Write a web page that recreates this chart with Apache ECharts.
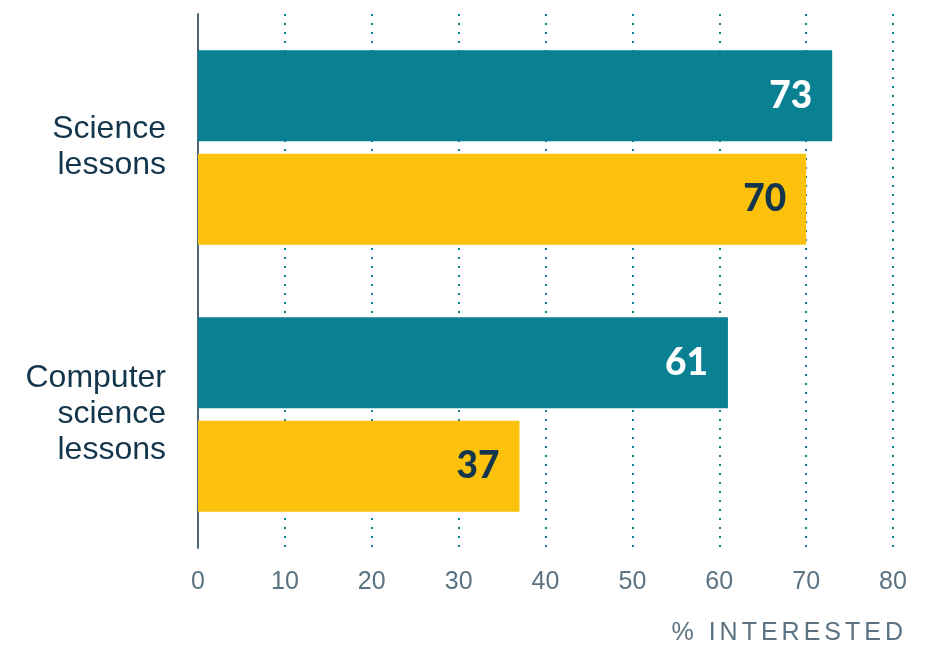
<!DOCTYPE html>
<html>
<head>
<meta charset="utf-8">
<script src="https://cdn.jsdelivr.net/npm/echarts@6/dist/echarts.min.js"></script>
<style>
  html, body { margin: 0; padding: 0; background: #ffffff; }
  #wrap { position: relative; width: 931px; height: 645px; }
  #chart { width: 931px; height: 645px; }
  #xname {
    position: absolute; right: 24px; top: 616px;
    font-family: "Liberation Sans", Arial, sans-serif; font-size: 25px;
    letter-spacing: 4px; color: #5b7282; line-height: 30px; white-space: nowrap;
  }
</style>
</head>
<body>
<div id="wrap">
  <div id="chart"></div>
  <div id="xname">% INTERESTED</div>
</div>
<script>
// Categories (top to bottom) and the two series of percentages
const categories = ['Science\nlessons', 'Computer\nscience\nlessons'];
const seriesTeal = [73, 61];
const seriesYellow = [70, 37];
const xTicks = [0, 10, 20, 30, 40, 50, 60, 70, 80];

const TEAL = '#0a8193';
const YELLOW = '#fcc10a';
const NAVY = '#14364d';
const AXIS_GREY = '#5b7282';

const chart = echarts.init(document.getElementById('chart'), null, { renderer: 'canvas' });

const labelBase = {
  show: true,
  position: 'insideRight',
  distance: 20,
  fontFamily: 'Lato, "Open Sans", sans-serif',
  fontWeight: 900,
  fontSize: 37
};

chart.setOption({
  animation: false,
  grid: { left: 198, right: 38, top: 14, height: 534, containLabel: false },
  xAxis: {
    type: 'value',
    min: xTicks[0],
    max: xTicks[xTicks.length - 1],
    interval: 10,
    axisLine: { show: false },
    axisTick: { show: false },
    axisLabel: {
      margin: 22,
      fontFamily: '"Liberation Sans", Arial, sans-serif',
      fontSize: 25,
      color: AXIS_GREY
    },
    splitLine: {
      show: true,
      lineStyle: { color: TEAL, width: 2, type: [2, 7] }
    }
  },
  yAxis: {
    type: 'category',
    data: categories,
    inverse: true,
    axisLine: { show: true, lineStyle: { color: '#4d6878', width: 2 } },
    axisTick: { show: false },
    axisLabel: {
      margin: 32,
      fontFamily: '"Liberation Sans", Arial, sans-serif',
      fontSize: 32,
      lineHeight: 36,
      color: NAVY,
      align: 'right'
    },
    splitLine: { show: false }
  },
  series: [
    {
      type: 'bar',
      data: seriesTeal,
      barWidth: 91,
      barGap: '14%',
      itemStyle: { color: TEAL },
      label: Object.assign({ color: '#ffffff' }, labelBase)
    },
    {
      type: 'bar',
      data: seriesYellow,
      barWidth: 91,
      barGap: '14%',
      itemStyle: { color: YELLOW },
      label: Object.assign({ color: NAVY }, labelBase)
    }
  ]
});
</script>
</body>
</html>
